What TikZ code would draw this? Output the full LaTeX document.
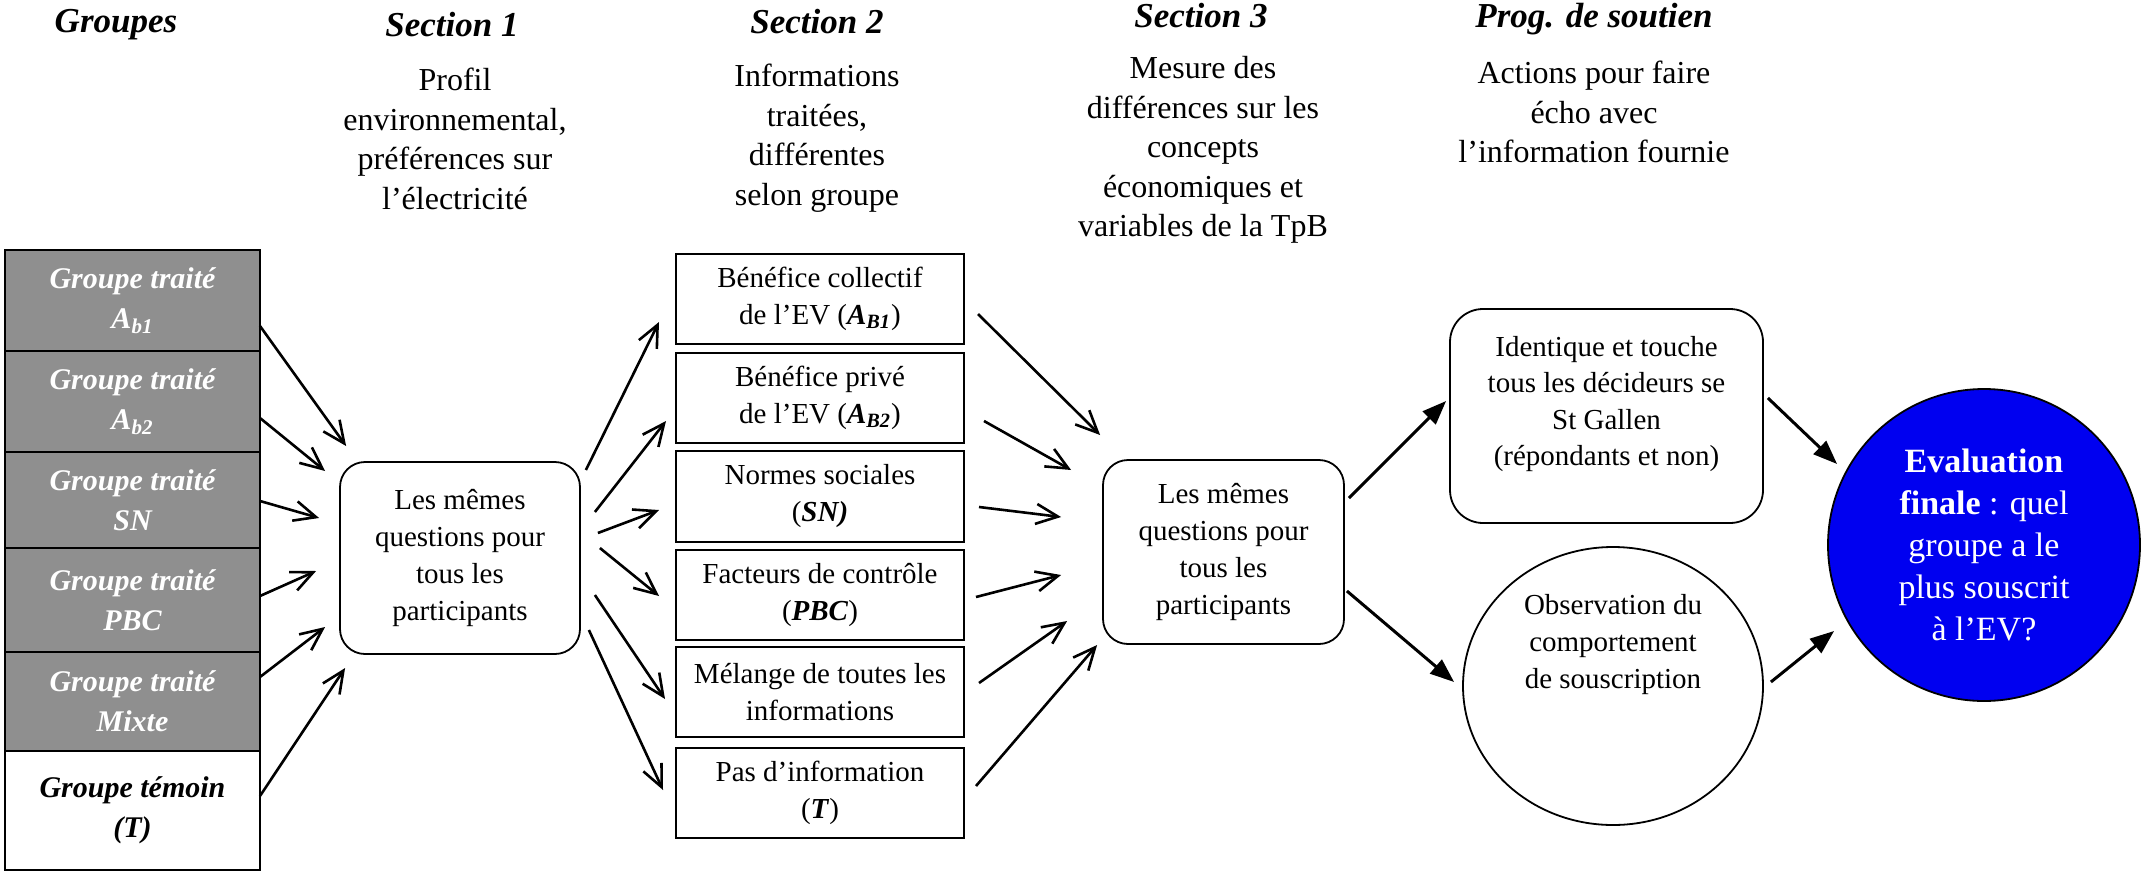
\documentclass[tikz,border=0pt]{standalone}
\usepackage{fontspec}
\setmainfont{Liberation Serif}
\usetikzlibrary{arrows.meta,calc,shapes.geometric}

\definecolor{grpgray}{RGB}{143,143,143}
\definecolor{evblue}{RGB}{0,0,240}

\newcommand{\bi}[1]{\textbf{\textit{#1}}}

\tikzset{
  txtbody/.style={font=\fontsize{14.5}{18.5}\selectfont, align=center, inner sep=0pt},
  subtxt/.style={font=\fontsize{16}{19.75}\selectfont, align=center, inner sep=0pt},
  headtxt/.style={font=\fontsize{17.5}{21}\selectfont\bfseries\itshape, inner sep=0pt},
  grpbox/.style={draw, line width=1pt, fill=grpgray, text=white, minimum width=127.5pt,
    inner sep=0pt, outer sep=0pt, align=center,
    font=\fontsize{15}{20}\selectfont\bfseries\itshape},
  ctlbox/.style={grpbox, fill=white, text=black},
  infobox/.style={draw, line width=1pt, minimum width=144pt, minimum height=45pt,
    inner sep=0pt, txtbody},
  qbox/.style={draw, line width=0.9pt, rounded corners=12.5pt, inner sep=0pt, txtbody},
  openarrow/.style={-{Straight Barb[length=11pt,width=10pt]}, line width=1.3pt},
  fullarrow/.style={-{Triangle[length=12pt,width=9pt]}, line width=1.5pt},
}

\begin{document}
\begin{tikzpicture}[x=0.5pt,y=-0.5pt]
\useasboundingbox (0,0) rectangle (2143,873);

% column headings
\node[headtxt] (hgrp) at (116,25) {Groupes};
\node[headtxt] (hs1) at (452,25) {Section 1};
\node[headtxt] (hs2) at (817,22) {Section 2};
\node[headtxt] (hs3) at (1201,16) {Section 3};
\node[headtxt] (hprog) at (1594,19) {Prog. de soutien};

\node[subtxt] (t1) at (455,139) {Profil\\ environnemental,\\ préférences sur\\ l’électricité};
\node[subtxt] (t2) at (817,138) {Informations\\ traitées,\\ différentes\\ selon groupe};
\node[subtxt] (t3) at (1203,150) {Mesure des\\ différences sur les\\ concepts\\ économiques et\\ variables de la TpB};
\node[subtxt] (t4) at (1594,112) {Actions pour faire\\ écho avec\\ l’information fournie};

% groups
\node[grpbox, minimum height=50.5pt] (g1) at (132.5,300.5) {Groupe traité\\ A\textsubscript{b1}};
\node[grpbox, minimum height=50.5pt] (g2) at (132.5,401.5) {Groupe traité\\ A\textsubscript{b2}};
\node[grpbox, minimum height=48pt]   (g3) at (132.5,500) {Groupe traité\\ SN};
\node[grpbox, minimum height=52pt]   (g4) at (132.5,600) {Groupe traité\\ PBC};
\node[grpbox, minimum height=49.5pt] (g5) at (132.5,701.5) {Groupe traité\\ Mixte};
\node[ctlbox, minimum height=59.5pt] (g6) at (132.5,810.5) {Groupe témoin\\ (T)};

% section 1
\node[qbox, minimum width=120pt, minimum height=96pt] (s1) at (460,558)
  {Les mêmes\\ questions pour\\ tous les\\ participants};

% section 2
\node[infobox] (b1) at (820,299) {Bénéfice collectif\\ de l’EV (\bi{A}\textsubscript{\bi{B1}})};
\node[infobox] (b2) at (820,398) {Bénéfice privé\\ de l’EV (\bi{A}\textsubscript{\bi{B2}})};
\node[infobox, minimum height=45.5pt] (b3) at (820,496.5) {Normes sociales\\ (\bi{SN)}};
\node[infobox] (b4) at (820,595) {Facteurs de contrôle\\ (\bi{PBC})};
\node[infobox] (b5) at (820,692) {Mélange de toutes les\\ informations};
\node[infobox] (b6) at (820,793) {Pas d’information\\ (\bi{T})};

% section 3
\node[qbox, minimum width=120.5pt, minimum height=92pt] (s3) at (1223.5,552)
  {Les mêmes\\ questions pour\\ tous les\\ participants};

% support programme
\node[draw, line width=0.9pt, rounded corners=16.5pt, minimum width=156.5pt,
  minimum height=107pt, inner sep=0pt] (prog) at (1606.5,416) {};
\node[txtbody, font=\fontsize{14.5}{18.25}\selectfont] (progtxt) at ([yshift=6pt]prog.center)
  {Identique et touche\\ tous les décideurs se\\ St Gallen\\ (répondants et non)};

\node[draw, line width=0.9pt, ellipse, minimum width=150pt, minimum height=139pt,
  inner sep=0pt] (obs) at (1613,686) {};
\node[txtbody] (obstxt) at ([yshift=20.5pt]obs.center)
  {Observation du\\ comportement\\ de souscription};

% final evaluation
\node[draw, line width=0.9pt, circle, fill=evblue, minimum size=156pt, inner sep=0pt,
  text=white, align=center, font=\fontsize{17}{21}\selectfont] (fin) at (1984,545)
  {\textbf{Evaluation}\\ \textbf{finale} : quel\\ groupe a le\\ plus souscrit\\ à l’EV?};

% groups -> section 1
\draw[openarrow] ($(g1.east)+(0,25.5)$) -- ($(s1.west)+(7,-112)$);
\draw[openarrow] ($(g2.east)+(0,16.5)$) -- ($(s1.west)+(-14,-87)$);
\draw[openarrow] ($(g3.east)+(0,1)$) -- ($(s1.west)+(-20,-40)$);
\draw[openarrow] ($(g4.east)+(0,-4)$) -- ($(s1.west)+(-23,13)$);
\draw[openarrow] ($(g5.east)+(0,-24.5)$) -- ($(s1.west)+(-14,69)$);
\draw[openarrow] ($(g6.east)+(0,-14.5)$) -- ($(s1.west)+(6,110)$);

% section 1 -> section 2
\draw[openarrow] ($(s1.east)+(5,-88)$) -- ($(b1.west)+(-16,23)$);
\draw[openarrow] ($(s1.east)+(14,-46)$) -- ($(b2.west)+(-9,23)$);
\draw[openarrow] ($(s1.east)+(17,-25)$) -- ($(b3.west)+(-16,13.5)$);
\draw[openarrow] ($(s1.east)+(19,-10)$) -- ($(b4.west)+(-16,1)$);
\draw[openarrow] ($(s1.east)+(14,37)$) -- ($(b5.west)+(-10,7)$);
\draw[openarrow] ($(s1.east)+(8,72)$) -- ($(b6.west)+(-12,-3)$);

% section 2 -> section 3
\draw[openarrow] ($(b1.east)+(13,15)$) -- ($(s3.west)+(-2,-117)$);
\draw[openarrow] ($(b2.east)+(19,23)$) -- ($(s3.west)+(-31,-82)$);
\draw[openarrow] ($(b3.east)+(14,10.5)$) -- ($(s3.west)+(-41,-35)$);
\draw[openarrow] ($(b4.east)+(11,2)$) -- ($(s3.west)+(-41,23)$);
\draw[openarrow] ($(b5.east)+(14,-9)$) -- ($(s3.west)+(-35,69)$);
\draw[openarrow] ($(b6.east)+(11,-7)$) -- ($(s3.west)+(-5,93)$);

% section 3 -> support programme / observation
\draw[fullarrow] ($(s3.east)+(4,-54)$) -- ($(prog.west)+(-3,-15)$);
\draw[fullarrow] ($(s3.east)+(2,39)$) -- ($(obs.west)+(-8,-4)$);

% -> final evaluation
\draw[fullarrow] ($(prog.east)+(4,-18)$) -- ($(fin.west)+(10,-81)$);
\draw[fullarrow] ($(obs.east)+(7,-4)$) -- ($(fin.west)+(7,86)$);
\end{tikzpicture}
\end{document}
